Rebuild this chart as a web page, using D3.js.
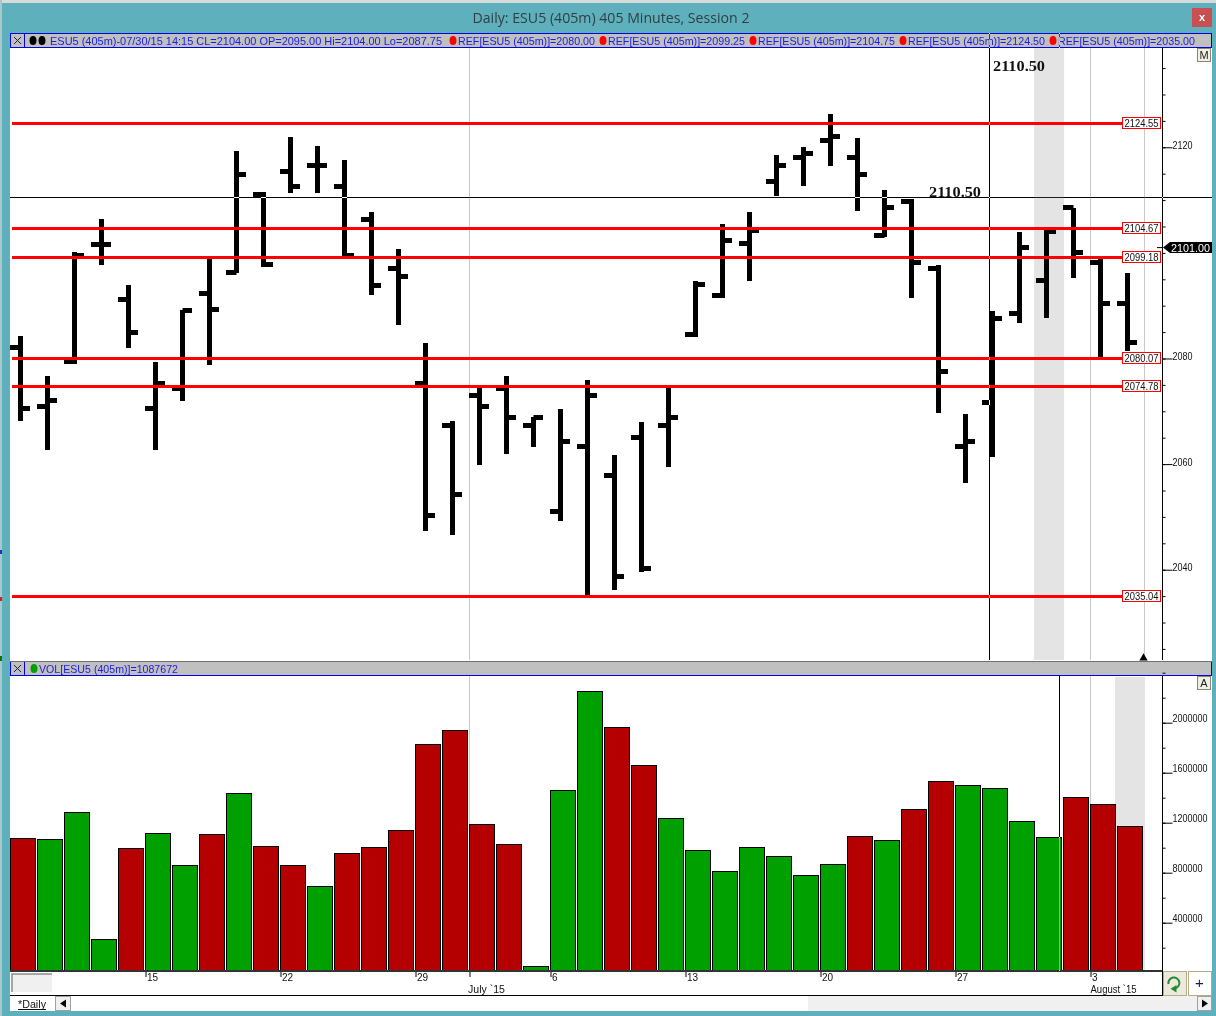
<!DOCTYPE html>
<html><head><meta charset="utf-8">
<script src="https://cdn.jsdelivr.net/npm/d3@7"></script>
<style>html,body{margin:0;padding:0;background:#5fb0bd;overflow:hidden}svg{display:block}text{font-family:"Liberation Sans",Arial,sans-serif}</style>
</head><body>
<script>
const opens=[2082,2071,2079.5,2101.5,2091.25,2070.5,2074.25,2092.25,2096.25,2111,2115.5,2116.5,2112.5,2106.25,2097,2075.25,2067.25,2073,2074.25,2067.25,2051,2063.25,2057.75,2065,2067.25,2084.5,2092,2101.75,2113.5,2118,2121.25,2118,2103.25,2109.75,2097,2063.25,2071.75,2088.5,2094.75,2108.5,2098.25,2090.5];
const highs=[2084.25,2076.75,2100.25,2106.5,2094,2079.25,2089.25,2098.75,2119.25,2111.5,2122,2120.25,2117.5,2107.75,2100.75,2083,2068.25,2074.5,2076.75,2069,2070.5,2076,2061.75,2068,2074.5,2094.75,2105.5,2107.75,2118.5,2120,2126.25,2121.75,2112,2110.25,2097.75,2069.5,2089,2104,2104.25,2108.5,2098.75,2096.25];
const lows=[2068.25,2062.75,2079,2097.75,2082,2062.75,2072,2078.75,2096.25,2097.25,2111.25,2111.25,2099.25,2092,2086.25,2047.25,2046.5,2059.75,2062,2063.25,2049.25,2035.25,2036.25,2039.5,2059.5,2084,2091.5,2094.75,2110.75,2112.75,2116.5,2108,2103,2091.5,2069.75,2056.5,2061.25,2086.75,2087.75,2095.25,2080.25,2081.5];
const closes=[2070.5,2072,2099.5,2101.5,2085,2075.25,2089,2089.25,2114.75,2097.75,2112.5,2116.5,2099.5,2093.75,2095.5,2050.25,2054.25,2071,2068.75,2068.75,2064.25,2073,2038.75,2040.25,2068.75,2094,2102.25,2104.25,2116.5,2118.75,2122,2114.75,2108.5,2098.25,2077.5,2064.25,2087.5,2101,2104,2100,2090.5,2083];
const volumes=[1075000,1067000,1283000,267000,995000,1115000,859000,1107000,1435000,1011000,859000,691000,955000,1003000,1139000,1827000,1939000,1187000,1027000,51000,1459000,2251000,1963000,1659000,1235000,979000,811000,1003000,931000,779000,867000,1091000,1059000,1307000,1531000,1499000,1475000,1211000,1087672,1403000,1347000,1171000];
const volumeDown=[1,0,0,0,1,0,0,1,0,1,1,0,1,1,1,1,1,1,1,0,0,0,1,1,0,0,0,0,0,0,0,1,0,1,1,0,0,0,0,1,1,1];
const refLevels=[2124.55,2104.67,2099.18,2080.07,2074.78,2035.04];
const priceTicks=[2120,2080,2060,2040];
const volumeTicks=[400000,800000,1200000,1600000,2000000];
const dateTickIndex=[5,10,15,17,20,25,30,35,40];
const dateTickLabels=["15","22","29","","6","13","20","27","3"];
const monthLabels=[{i:17,t:"July `15"},{i:40,t:"August `15"}];
const legendTitle="ESU5 (405m)-07/30/15 14:15 CL=2104.00 OP=2095.00 Hi=2104.00 Lo=2087.75";
const legendRefs=["2080.00","2099.25","2104.75","2124.50","2035.00"];
const cursorPrice=2110.5, lastPrice=2101;

const W=1216,H=1016,axisX=1162;
const svg=d3.select("body").append("svg").attr("width",W).attr("height",H);
const rect=(g,x,y,w,h,f,s)=>g.append("rect").attr("x",x).attr("y",y).attr("width",w).attr("height",h).attr("fill",f).attr("stroke",s||"none");
const line=(g,x1,y1,x2,y2,c,w)=>g.append("line").attr("x1",x1).attr("y1",y1).attr("x2",x2).attr("y2",y2).attr("stroke",c).attr("stroke-width",w||1);
const text=(g,x,y,t,size,col,len,anchor)=>{const e=g.append("text").attr("x",x).attr("y",y).attr("font-size",size).attr("fill",col).attr("text-anchor",anchor||"start").text(t);if(len)e.attr("textLength",len).attr("lengthAdjust","spacingAndGlyphs");return e;};
const dot=(g,x,y,c)=>g.append("ellipse").attr("cx",x).attr("cy",y).attr("rx",3.5).attr("ry",4.5).attr("fill",c);

const xEdge=d3.scaleLinear().domain([0,42]).range([10,1144]);
const yPrice=d3.scaleLinear().domain([2022.9,2138.8]).range([660,48]);
const yVol=d3.scaleLinear().domain([0,2000000]).range([972.7,722.7]);
const stemX=i=>xEdge(i)+10.5;
const crisp=v=>Math.round(yPrice(v)-1.2);

// frame
rect(svg,0,0,W,H,"#5fb0bd");
rect(svg,0,0,W,3,"#d6dcdc");
rect(svg,0,0,2,H,"#a9c8cc");
rect(svg,0,550,2,4,"#2030c0");rect(svg,0,597,2,4,"#d02020");rect(svg,0,656,2,5,"#107010");
text(svg,611,23,"Daily: ESU5 (405m) 405 Minutes, Session 2",14,"#2f3f42",277,"middle").style("font-family","'Open Sans',sans-serif");
rect(svg,1192,8,20,19,"#c75050");
text(svg,1202,21,"x",11,"#fff",null,"middle").attr("font-weight","bold");

// panes
rect(svg,10,48,1202,613,"#fff");
rect(svg,10,676,1202,320,"#fff");

// price pane background
const pricePane=svg.append("g");
rect(pricePane,xEdge(37.93),48,xEdge(39.04)-xEdge(37.93),612,"#e4e4e4");
[17,40,42].forEach(i=>line(pricePane,xEdge(i)+.5,48,xEdge(i)+.5,660,"#c8c8c8"));
pricePane.append("path").attr("d",d3.symbol(d3.symbolTriangle,30)()).attr("transform",`translate(${xEdge(42)-.5},658)`).attr("fill","#000");

// OHLC bars
const bars=pricePane.append("g").selectAll("g").data(opens.map((o,i)=>({i,o,h:highs[i],l:lows[i],c:closes[i]}))).join("g");
bars.append("rect").attr("x",d=>stemX(d.i)-2.5).attr("width",5).attr("y",d=>Math.round(yPrice(d.h))).attr("height",d=>Math.round(yPrice(d.l))-Math.round(yPrice(d.h))).attr("fill","#000");
bars.append("rect").attr("x",d=>Math.max(10,stemX(d.i)-10.5)).attr("width",d=>stemX(d.i)-Math.max(10,stemX(d.i)-10.5)).attr("y",d=>Math.round(yPrice(d.o)-2.5)).attr("height",5).attr("fill","#000");
bars.append("rect").attr("x",d=>stemX(d.i)).attr("width",9.5).attr("y",d=>Math.round(yPrice(d.c)-2.5)).attr("height",5).attr("fill","#000");

// reference lines
refLevels.forEach(v=>rect(pricePane,12,crisp(v),1110,3,"#ff0000"));

// price axis
const priceMinor=d3.range(2025,2136,5);
const axMinor=pricePane.append("g").attr("transform",`translate(${axisX+.5},0)`).call(d3.axisRight(yPrice).tickValues(priceMinor).tickSize(3).tickFormat(""));
const axMajor=pricePane.append("g").attr("transform",`translate(${axisX+.5},0)`).call(d3.axisRight(yPrice).tickValues(priceTicks).tickSize(10).tickPadding(0).tickFormat(d3.format("d")));
[axMinor,axMajor].forEach(a=>{a.select(".domain").attr("stroke","#000").attr("d","M0,48V660");a.selectAll("line").attr("stroke","#000");});
axMajor.selectAll("text").attr("font-size",10).attr("fill","#111").attr("dy","1px").attr("x",10).attr("textLength",20).attr("lengthAdjust","spacingAndGlyphs").style("font-family",'"Liberation Sans",sans-serif');

// reference labels
refLevels.forEach(v=>{
  const y=crisp(v)+1;
  rect(pricePane,1122.5,y-5.5,38,11,"#fff","#ff0000");
  text(pricePane,1124.5,y+3.5,d3.format(".2f")(v),10,"#111",34);
});

// price markers
const py=yPrice(lastPrice);
line(pricePane,1157,py,1163,py,"#000",1);
pricePane.append("path").attr("d",`M1163,${py}L1170,${py-5.5}H1212V${py+5.5}H1170Z`).attr("fill","#000");
text(pricePane,1171,py+4,d3.format(".2f")(lastPrice),10.5,"#fff",39);
const serif=(x,y)=>text(pricePane,x,y,d3.format(".2f")(cursorPrice),15,"#111",52).attr("font-weight","bold").style("font-family",'"Liberation Serif",serif');
serif(993,71);serif(929,197);

// legend bar
const leg=svg.append("g");
rect(leg,10.5,33.5,1201,14,"#c0c0c0","#0000e0");
rect(leg,10.5,33.5,14,14,"#c0c0c0","#0000e0");
line(leg,14,37,21,44,"#223");line(leg,21,37,14,44,"#223");
dot(leg,33,40.5,"#000");dot(leg,42,40.5,"#000");
text(leg,50,45,legendTitle,11.5,"#1c1ce8",392);
legendRefs.forEach((v,i)=>{
  const o=150*i;
  dot(leg,453+o,40.5,"#ff0000");
  text(leg,458+o,45,`REF[ESU5 (405m)]=${v}`,11.5,"#1c1ce8",137);
});

// M button
const btn=(x,y,t)=>{rect(svg,x+.5,y+.5,13,13,"#f2efe4","#8a8470");text(svg,x+7,y+11,t,11,"#222",null,"middle");};
btn(1197,48,"M");

// volume separator
const sep=svg.append("g");
rect(sep,10,661,1202,15,"#c0c0c0");
line(sep,10,661.5,1212,661.5,"#707070");
line(sep,10,675.5,1212,675.5,"#0000e0");
line(sep,10.5,662,10.5,676,"#0000e0");line(sep,24.5,662,24.5,676,"#0000e0");line(sep,1211.5,662,1211.5,676,"#0000e0");
line(sep,14,665,21,672,"#223");line(sep,21,665,14,672,"#223");
dot(sep,34,668.5,"#00a000");
text(sep,39,673,`VOL[ESU5 (405m)]=${volumes[38]}`,11.5,"#1c1ce8",139);

// volume pane
const vol=svg.append("g");
rect(vol,xEdge(40.93),677,xEdge(42.04)-xEdge(40.93),294,"#e4e4e4");
[17,40].forEach(i=>line(vol,xEdge(i)+.5,676,xEdge(i)+.5,971,"#c8c8c8"));
vol.append("g").selectAll("rect").data(volumes).join("rect")
  .attr("x",(d,i)=>xEdge(i)+.5).attr("width",25).attr("y",d=>Math.round(yVol(d))+.5).attr("height",d=>971-Math.round(yVol(d)))
  .attr("fill",(d,i)=>volumeDown[i]?"#b40000":"#00a000").attr("stroke","#000");
const volMinor=d3.range(200000,2400001,200000);
const vMinor=vol.append("g").attr("transform",`translate(${axisX+.5},0)`).call(d3.axisRight(yVol).tickValues(volMinor).tickSize(3).tickFormat(""));
const vMajor=vol.append("g").attr("transform",`translate(${axisX+.5},0)`).call(d3.axisRight(yVol).tickValues(volumeTicks).tickSize(10).tickPadding(0).tickFormat(d3.format("d")));
[vMinor,vMajor].forEach(a=>{a.select(".domain").attr("stroke","#000").attr("d","M0,676V971");a.selectAll("line").attr("stroke","#000");});
vMajor.selectAll("text").attr("font-size",10).attr("fill","#111").attr("dy","-1px").attr("x",10).attr("lengthAdjust","spacingAndGlyphs").attr("textLength",d=>d>=1000000?35:30).style("font-family",'"Liberation Sans",sans-serif');
btn(1197,676,"A");

// date axis
const dat=svg.append("g");
rect(dat,10,971,1152,24,"#fff");
const xAx=dat.append("g").attr("transform","translate(0.5,971)").call(d3.axisBottom(xEdge).tickValues(dateTickIndex).tickSize(6).tickPadding(0).tickFormat((d,i)=>dateTickLabels[i]));
xAx.select(".domain").remove();
xAx.selectAll("line").attr("stroke","#000");
xAx.selectAll("text").attr("font-size",10).attr("fill","#111").attr("text-anchor","start").attr("x",1).attr("y",3).attr("dy","0.71em").style("font-family",'"Liberation Sans",sans-serif');
monthLabels.forEach(m=>text(dat,xEdge(m.i)+(m.i===17?-1:.5),993,m.t,10,"#111",m.t.length>9?46:37));
line(dat,10,971,1162,971,"#333",2);
line(dat,10,995.5,1162,995.5,"#000");
line(dat,1162.5,971,1162.5,996,"#000");
rect(dat,12,974,40,18,"#f0f0f0");
dat.append("path").attr("d","M12,992V974H52").attr("fill","none").attr("stroke","#8c8c8c").attr("stroke-width",1.5);

// buttons
rect(svg,1163.5,971.5,23,24,"#eeeadb","#b5ad8a");
rect(svg,1188.5,971.5,23,24,"#fff","#b5ad8a");
text(svg,1199.5,988,"+",15,"#1a1a55",null,"middle");
svg.append("path").attr("d","M1168.5,984A5.5,5.5 0 1 1 1175,988.4").attr("fill","none").attr("stroke","#1f8a35").attr("stroke-width",2);
svg.append("path").attr("d","M1176.5,985L1176.5,992.5L1170.5,988.7Z").attr("fill","#1f8a35");

// tab row
rect(svg,10,996,1202,15,"#fff");
rect(svg,808,996,389,15,"#f0f0f0");
text(svg,18,1008,"*Daily",11,"#111",28);
line(svg,18,1009.5,46,1009.5,"#111");
rect(svg,55.5,996.5,15,14,"#f0f0f0","#a0a0a0");
svg.append("path").attr("d","M66,999.5L60,1003.5L66,1007.5Z").attr("fill","#000");
rect(svg,1197.5,996.5,14,14,"#f0f0f0","#a0a0a0");
svg.append("path").attr("d","M1202,999.5L1208,1003.5L1202,1007.5Z").attr("fill","#000");

// inverting cursor lines
const cur=svg.append("g");
const inv=(x1,y1,x2,y2)=>line(cur,x1,y1,x2,y2,"#fff").style("mix-blend-mode","difference");
const cy=Math.round(yPrice(cursorPrice))+.5;
inv(10,cy,1212,cy);
inv(989.5,33,989.5,660);
inv(1059.5,33,1059.5,48);
inv(1059.5,676,1059.5,971);
</script>
</body></html>
